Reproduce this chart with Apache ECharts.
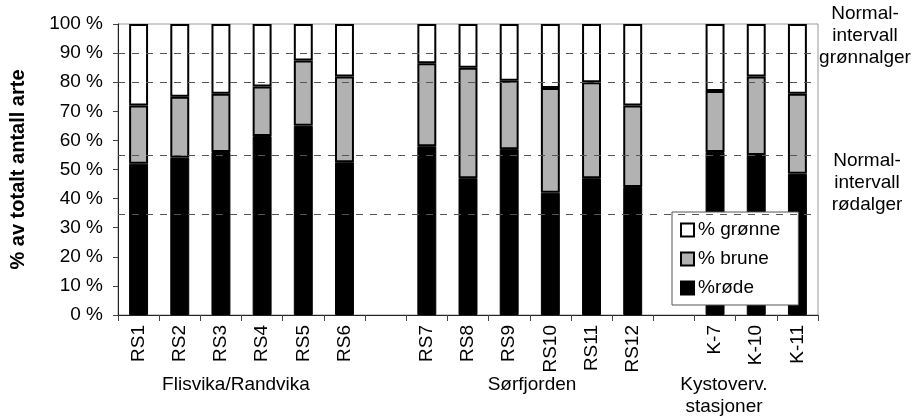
<!DOCTYPE html>
<html>
<head>
<meta charset="utf-8">
<script src="https://cdn.jsdelivr.net/npm/echarts@6/dist/echarts.min.js"></script>
<style>html,body{margin:0;padding:0;background:#fff}#c{width:915px;height:416px}</style>
</head>
<body>
<div id="c"></div>
<script>
const categories = ['RS1','RS2','RS3','RS4','RS5','RS6','','RS7','RS8','RS9','RS10','RS11','RS12','','K-7','K-10','K-11'];
const rode   = [52, 54, 56, 61.5, 65, 52.5, null, 58, 47, 57, 42, 47, 44, null, 56, 55, 48.5];
const brune  = [20, 21, 20, 17, 22.5, 29.5, null, 28.5, 38, 23.5, 36, 33, 28, null, 21, 27, 27.5];
const gronne = [28, 25, 24, 21.5, 12.5, 18, null, 13.5, 15, 19.5, 22, 20, 28, null, 23, 18, 24];
const normalLines = [90, 80, 55, 34.5];
const groupLabels = ['Flisvika/Randvika', 'Sørfjorden', 'Kystoverv.\nstasjoner'];
const noteLabels = ['Normal-\nintervall\ngrønnalger', 'Normal-\nintervall\nrødalger'];
const FONT = 'Liberation Sans, Arial, sans-serif';
const FS = 19;

function txt(x, y, text) {
  return { type: 'text', x: x, y: y, style: { text: text, font: FS + 'px ' + FONT, fill: '#000', align: 'center', verticalAlign: 'top', lineHeight: 22 } };
}

const chart = echarts.init(document.getElementById('c'));
chart.setOption({
  animation: false,
  backgroundColor: '#fff',
  textStyle: { fontFamily: FONT },
  grid: { left: 113, right: 97, top: 24, bottom: 101, show: true, borderColor: '#999', borderWidth: 1 },
  legend: {
    orient: 'vertical', left: 672, top: 212,
    padding: [7, 18, 6, 8], itemGap: 7, itemWidth: 13, itemHeight: 13,
    icon: 'rect',
    backgroundColor: '#fff', borderColor: '#555', borderWidth: 1,
    textStyle: { fontSize: FS, color: '#000', fontFamily: FONT, lineHeight: 22, padding: [0, 0, 0, -1] },
    data: ['% grønne', '% brune', '%røde']
  },
  xAxis: {
    type: 'category', data: categories,
    axisLine: { lineStyle: { color: '#222', width: 1 } },
    axisTick: { show: true, interval: 0, length: 6, lineStyle: { color: '#444' } },
    axisLabel: { interval: 0, rotate: 90, fontSize: FS, color: '#000', margin: 10, fontFamily: FONT },
    splitLine: { show: false }
  },
  yAxis: {
    type: 'value', min: 0, max: 100, interval: 10,
    name: '% av totalt antall arte', nameLocation: 'middle', nameGap: 90, nameRotate: 90,
    nameTextStyle: { fontSize: 20, fontWeight: 'bold', color: '#000', fontFamily: FONT },
    axisLine: { show: true, lineStyle: { color: '#222', width: 1 } },
    axisTick: { show: true, length: 5, lineStyle: { color: '#444' } },
    axisLabel: { formatter: '{value} %', fontSize: FS, color: '#000', margin: 15, fontFamily: FONT },
    splitLine: { show: false }
  },
  graphic: [
    txt(236, 374, groupLabels[0]),
    txt(532, 374, groupLabels[1]),
    txt(724, 374, groupLabels[2]),
    txt(865, 3, noteLabels[0]),
    txt(867, 150, noteLabels[1])
  ],
  series: [
    {
      name: 'normal', type: 'line', data: categories.map(() => null), z: 1, silent: true,
      markLine: {
        silent: true, symbol: 'none', label: { show: false },
        lineStyle: { type: [7, 7], color: '#555', width: 1 },
        data: normalLines.map(v => ({ yAxis: v }))
      }
    },
    {
      name: '%røde', type: 'bar', stack: 'a', data: rode, barWidth: '46%', z: 3,
      itemStyle: { color: '#000', borderColor: '#000', borderWidth: 1 }
    },
    {
      name: '% brune', type: 'bar', stack: 'a', data: brune, barWidth: '46%', z: 3,
      itemStyle: { color: '#b2b2b2', borderColor: '#000', borderWidth: 2 }
    },
    {
      name: '% grønne', type: 'bar', stack: 'a', data: gronne, barWidth: '46%', z: 3,
      itemStyle: { color: '#fff', borderColor: '#000', borderWidth: 2 }
    }
  ]
});
</script>
</body>
</html>
